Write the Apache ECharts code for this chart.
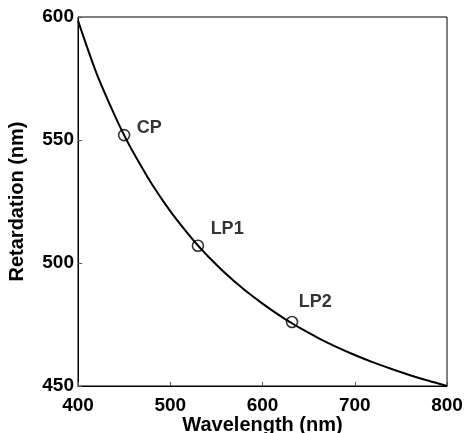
<!DOCTYPE html>
<html>
<head>
<meta charset="utf-8">
<script src="https://cdn.jsdelivr.net/npm/echarts@6/dist/echarts.min.js"></script>
<style>
html,body{margin:0;padding:0;background:#fff;}
#chart{width:466px;height:433px;}
</style>
</head>
<body>
<div id="chart"></div>
<script>
// Curve: wavelength (nm) vs retardation (nm)
var wavelengths = [400, 420, 440, 450, 460, 480, 500, 520, 530, 540, 560, 580, 600, 620, 632, 640, 660, 680, 700, 720, 740, 760, 780, 800];
var retardation = [598.5, 577.2, 559.8, 552.0, 544.9, 532.1, 521.1, 511.5, 507.1, 503.1, 495.7, 489.2, 483.5, 478.3, 475.5, 473.7, 469.6, 465.9, 462.6, 459.6, 456.9, 454.4, 452.1, 450.0];

// Marked points
var markNames = ['CP', 'LP1', 'LP2'];
var markX = [450, 530, 632];
var markY = [552, 507, 476];

var xTicks = [400, 500, 600, 700, 800];
var yTicks = [450, 500, 550, 600];

var FONT = "'Liberation Sans', Arial, Helvetica, sans-serif";
var labelOffsets = [[19, -0.5], [19, -10], [13, -14]];

var curveData = wavelengths.map(function (w, i) { return [w, retardation[i]]; });
var markData = markNames.map(function (n, i) {
  return {
    value: [markX[i], markY[i]],
    name: n,
    label: { position: labelOffsets[i] }
  };
});

var chart = echarts.init(document.getElementById('chart'), null, {renderer: 'canvas'});
chart.setOption({
  animation: false,
  backgroundColor: '#fff',
  grid: {left: 78, right: 19, top: 17, bottom: 47, containLabel: false, outerBoundsMode: 'none',
         show: true, borderColor: '#000', borderWidth: 1, backgroundColor: 'transparent'},
  xAxis: {
    type: 'value', min: xTicks[0], max: xTicks[xTicks.length - 1], interval: 100,
    name: 'Wavelength (nm)', nameLocation: 'middle', nameGap: 29, nameMoveOverlap: false,
    nameTextStyle: {fontFamily: FONT, fontWeight: 'bold', fontSize: 20, color: '#000'},
    axisLine: {show: true, lineStyle: {color: '#000', width: 1}},
    axisTick: {show: true, inside: true, length: 4, lineStyle: {color: '#555'}},
    axisLabel: {fontFamily: FONT, fontWeight: 'bold', fontSize: 19, color: '#000', margin: 10},
    splitLine: {show: false}
  },
  yAxis: {
    type: 'value', min: yTicks[0], max: yTicks[yTicks.length - 1], interval: 50,
    name: 'Retardation (nm)', nameLocation: 'middle', nameGap: 51, nameMoveOverlap: false,
    nameTextStyle: {fontFamily: FONT, fontWeight: 'bold', fontSize: 20, color: '#000'},
    axisLine: {show: true, lineStyle: {color: '#000', width: 1}},
    axisTick: {show: true, inside: true, length: 4, lineStyle: {color: '#555'}},
    axisLabel: {fontFamily: FONT, fontWeight: 'bold', fontSize: 19, color: '#000', margin: 4, padding: [7, 0, 0, 0]},
    splitLine: {show: false}
  },
  series: [
    {
      type: 'line', data: curveData, smooth: 0.3, showSymbol: false,
      lineStyle: {color: '#000', width: 2}, z: 2
    },
    {
      type: 'scatter', data: markData, symbol: 'circle', symbolSize: 11,
      itemStyle: {color: 'rgba(255,255,255,0)', borderColor: '#000', borderWidth: 1.6},
      label: {
        show: true, formatter: function (p) { return p.name; },
        align: 'left', verticalAlign: 'middle',
        fontFamily: FONT, fontWeight: 'bold', fontSize: 18, color: '#000'
      },
      z: 3
    }
  ]
});
</script>
</body>
</html>
